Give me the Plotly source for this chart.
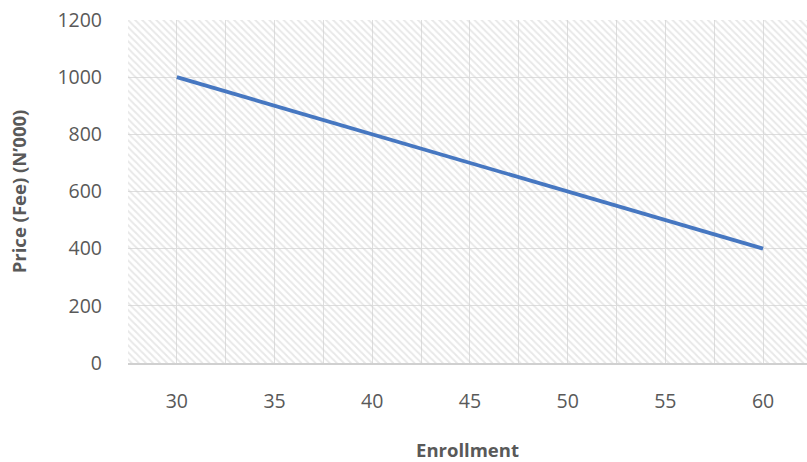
import plotly.graph_objects as go

# Enrollment vs. price data
enrollment = [30, 35, 40, 45, 50, 55, 60]
price = [1000, 900, 800, 700, 600, 500, 400]

x_ticks = [30, 35, 40, 45, 50, 55, 60]
y_ticks = [0, 200, 400, 600, 800, 1000, 1200]

x_range = [27.5, 62.25]
y_range = [0, 1200]

TEXT = "#595959"
GRID = "#dedede"
FONT = "Open Sans"

fig = go.Figure()

# hatched plot-area background
fig.add_trace(go.Scatter(
    x=[x_range[0], x_range[1], x_range[1], x_range[0], x_range[0]],
    y=[y_range[0], y_range[0], y_range[1], y_range[1], y_range[0]],
    mode="lines", line=dict(width=0), fill="toself",
    fillcolor="rgba(0,0,0,0)",
    fillpattern=dict(shape="\\", fgcolor="#d2d2d2", bgcolor="rgba(0,0,0,0)",
                     size=5, solidity=0.4, fillmode="overlay"),
    hoverinfo="skip", showlegend=False,
))

fig.add_trace(go.Scatter(
    x=enrollment, y=price, mode="lines",
    line=dict(color="#4677c1", width=3.75),
    showlegend=False,
))

fig.update_layout(
    width=807, height=462,
    margin=dict(l=128, r=0, t=20, b=99),
    paper_bgcolor="white", plot_bgcolor="white",
    font=dict(family=FONT, size=19.5, color=TEXT),
    xaxis=dict(
        range=x_range, tickvals=x_ticks, ticktext=[str(v) for v in x_ticks],
        showgrid=False, zeroline=False,
        minor=dict(tick0=27.5, dtick=2.5, showgrid=True, gridcolor=GRID, gridwidth=1),
        showline=True, linecolor="#d0d0d0", linewidth=2,
        ticks="", ticklabelstandoff=20,
        tickfont=dict(size=19.5, color=TEXT),
        title=dict(text="<b>Enrollment</b>", font=dict(size=18.5, color=TEXT), standoff=32),
    ),
    yaxis=dict(
        range=y_range, tickvals=y_ticks, showgrid=True, gridcolor=GRID, gridwidth=1,
        zeroline=False, ticks="", ticklabelstandoff=25,
        tickfont=dict(size=19.5, color=TEXT),
        title=dict(text="<b>Price (Fee) (N’000)</b>", font=dict(size=18.5, color=TEXT), standoff=25),
    ),
)

fig.write_html("out.html")
